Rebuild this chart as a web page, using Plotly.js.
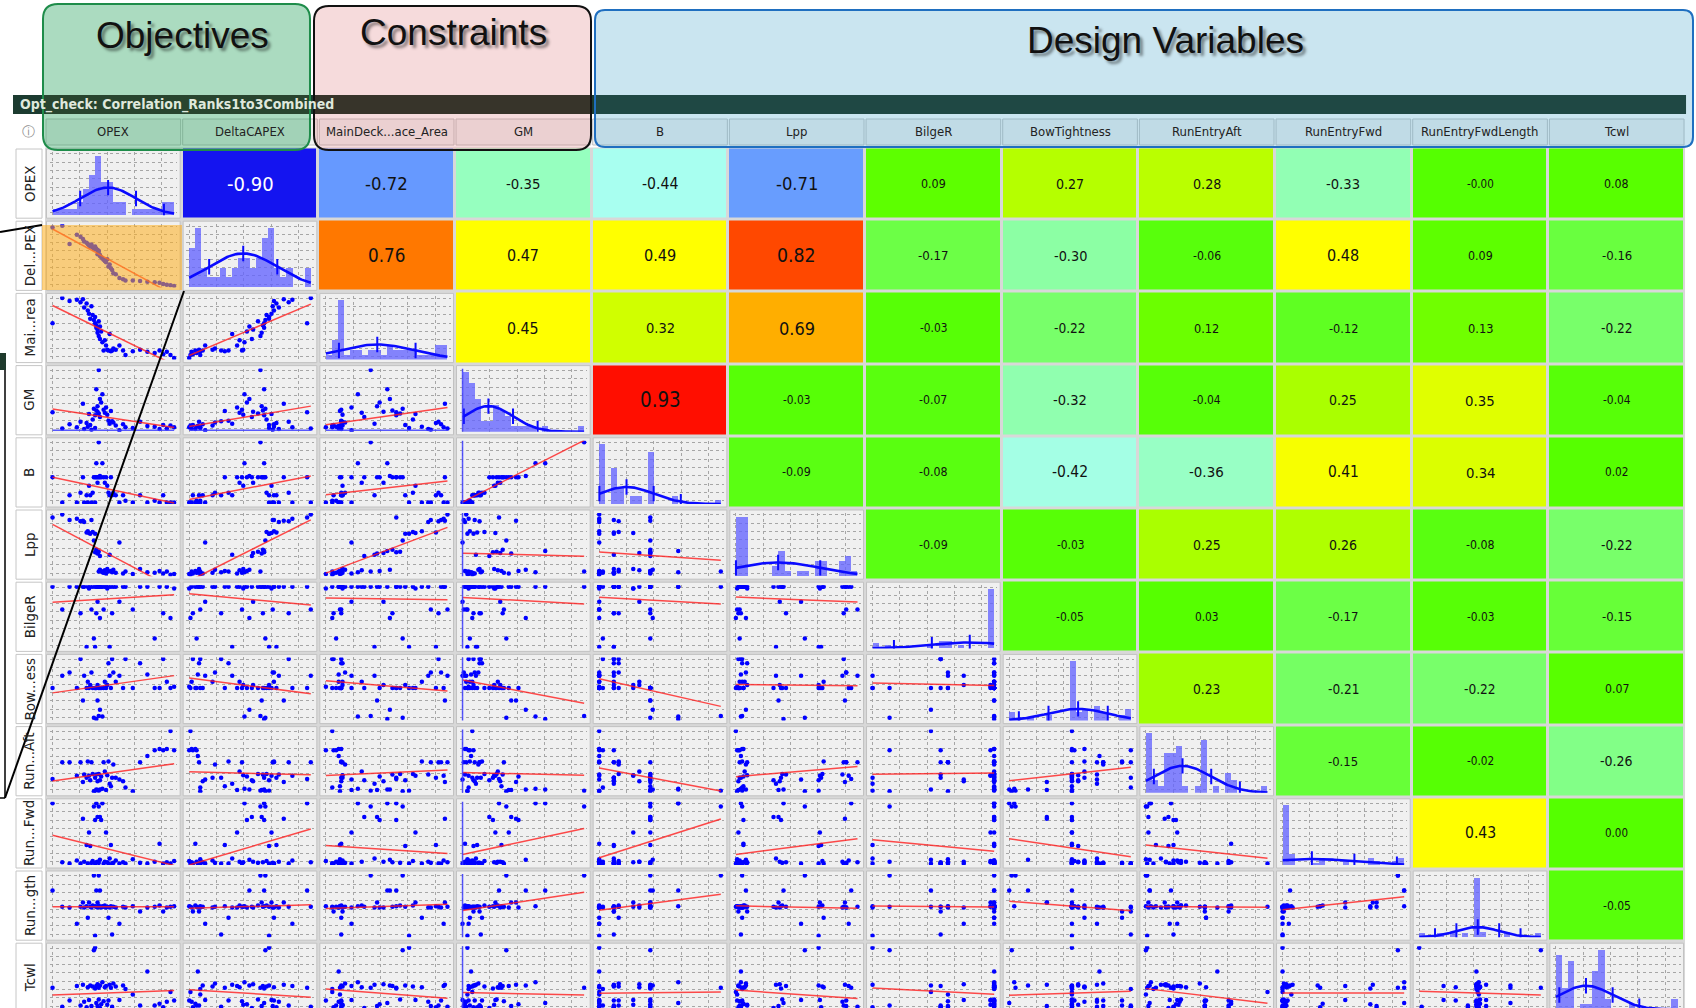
<!DOCTYPE html>
<html>
<head>
<meta charset="utf-8">
<script src="https://cdn.plot.ly/plotly-3.0.1.min.js"></script>
<style>
  html, body { margin: 0; padding: 0; background: #ffffff; }
  #chart { width: 1696px; height: 1008px; }
</style>
</head>
<body>
<div id="chart"></div>
<script>
// ---------------- data: 48 designs, values scaled 0..1 per variable ----------------
const headerLabels = ['OPEX', 'DeltaCAPEX', 'MainDeck...ace_Area', 'GM', 'B', 'Lpp', 'BilgeR',
  'BowTightness', 'RunEntryAft', 'RunEntryFwd', 'RunEntryFwdLength', 'Tcwl'];
const rowLabels = ['OPEX', 'Del...PEX', 'Mai...rea', 'GM', 'B', 'Lpp', 'BilgeR',
  'Bow...ess', 'Run...Aft', 'Run...Fwd', 'Run...gth', 'Tcwl'];

const opex = [0.00,0.08,0.14,0.20,0.23,0.25,0.26,0.28,0.29,0.30,0.31,0.32,0.33,0.34,0.35,0.36,0.36,0.37,0.37,0.38,0.38,0.39,0.39,0.40,0.41,0.42,0.43,0.44,0.45,0.46,0.47,0.48,0.49,0.50,0.52,0.55,0.58,0.60,0.66,0.72,0.78,0.84,0.88,0.91,0.94,0.97,1.00,0.35];
const deltaCapex = [0.97,1.00,0.70,0.85,0.82,0.78,0.74,0.72,0.70,0.68,0.66,0.69,0.64,0.63,0.62,0.62,0.61,0.60,0.53,0.57,0.59,0.52,0.50,0.48,0.46,0.44,0.42,0.40,0.45,0.33,0.36,0.30,0.27,0.22,0.20,0.14,0.12,0.10,0.10,0.09,0.08,0.07,0.06,0.04,0.03,0.02,0.01,0.66];
const mainDeckArea = [0.55,0.95,0.90,0.92,0.88,0.93,0.80,0.86,0.75,0.70,0.62,0.82,0.68,0.60,0.55,0.48,0.52,0.40,0.45,0.58,0.35,0.30,0.50,0.42,0.25,0.12,0.28,0.20,0.13,0.12,0.38,0.11,0.12,0.15,0.13,0.20,0.12,0.05,0.11,0.13,0.10,0.08,0.12,0.06,0.10,0.05,0.00,0.65];
const gm = [0.30,0.03,0.10,0.05,0.14,0.44,0.02,0.12,0.06,0.27,0.09,0.01,0.18,0.36,0.25,0.68,0.33,0.40,0.31,0.28,1.00,0.22,0.52,0.46,0.60,0.34,0.29,0.38,0.26,0.16,0.11,0.32,0.15,0.13,0.08,0.00,0.10,0.05,0.04,0.14,0.07,0.06,0.02,0.09,0.03,0.08,0.05,0.04];
const beam = [0.42,0.00,0.12,0.00,0.16,0.42,0.00,0.12,0.00,0.28,0.12,0.00,0.16,0.42,0.42,0.65,0.42,0.42,0.33,0.42,1.00,0.42,0.44,0.42,0.65,0.42,0.33,0.42,0.28,0.16,0.12,0.42,0.12,0.16,0.12,0.00,0.12,0.03,0.00,0.12,0.00,0.03,0.00,0.12,0.00,0.00,0.00,0.00];
const lpp = [0.92,0.97,0.88,0.90,0.86,0.87,0.85,0.68,0.70,0.67,0.66,0.88,0.69,0.55,0.36,0.38,0.40,0.34,0.35,0.37,0.05,0.30,0.08,0.06,0.04,0.03,0.07,0.02,0.09,0.05,0.32,0.06,0.04,0.08,0.03,0.52,0.02,0.05,0.01,0.09,0.04,0.03,0.06,0.02,0.05,0.00,0.01,0.66];
const bilgeR = [1.00,0.62,1.00,1.00,0.56,1.00,1.00,0.00,1.00,0.97,1.00,0.62,1.00,0.14,1.00,1.00,0.56,1.00,0.75,1.00,1.00,1.00,0.48,1.00,1.00,0.62,1.00,1.00,0.97,1.00,0.00,1.00,0.56,1.00,1.00,0.75,1.00,1.00,0.62,1.00,1.00,0.14,1.00,0.56,1.00,0.48,0.97,0.00];
const bowTightness = [0.50,0.70,0.75,0.50,0.97,0.30,0.70,0.50,0.60,0.50,0.55,0.75,0.50,0.02,0.50,0.00,0.50,0.30,0.55,0.50,0.05,0.50,0.15,0.50,0.04,0.50,0.60,0.50,0.55,0.90,0.70,0.50,0.97,0.75,0.60,0.70,0.50,0.97,0.50,0.90,0.72,0.50,0.50,0.97,0.60,0.50,0.52,0.50];
const runEntryAft = [0.20,0.47,0.47,0.25,0.47,0.15,0.27,0.22,0.48,0.25,0.18,0.47,0.28,0.00,0.22,0.03,0.27,0.02,0.16,0.28,0.01,0.18,0.03,0.24,0.04,0.47,0.32,0.02,0.26,0.48,0.12,0.08,0.22,0.43,0.22,0.19,0.16,0.06,0.00,0.47,0.57,0.66,0.68,0.66,0.68,0.97,0.66,0.01];
const runEntryFwd = [0.97,0.02,0.00,0.05,0.00,0.72,0.03,0.30,0.00,0.50,0.28,0.01,0.04,0.92,0.70,0.97,0.02,0.75,0.03,0.01,0.92,0.75,0.06,0.70,0.97,0.00,0.03,0.50,0.02,0.00,0.08,0.30,0.00,0.01,0.05,0.00,0.02,0.00,0.07,0.01,0.00,0.03,0.32,0.00,0.02,0.00,0.04,0.00];
const runEntryFwdLength = [0.75,0.48,0.47,0.20,0.48,0.55,0.47,0.49,0.30,0.55,0.48,0.47,0.50,1.00,0.49,0.75,0.48,0.55,0.47,0.50,1.00,0.48,0.75,0.47,0.49,0.48,0.50,0.47,0.48,0.30,0.47,0.49,0.02,0.48,0.47,0.20,0.48,0.47,0.49,0.40,0.47,0.48,0.50,0.40,0.47,0.48,0.49,0.00];
const tcwl = [0.33,0.02,0.12,0.36,0.04,0.38,0.10,0.01,0.34,0.13,0.37,0.03,0.35,0.95,0.32,0.08,0.36,0.03,0.39,0.14,0.33,0.00,0.37,0.06,0.42,0.11,0.34,0.36,0.05,0.12,0.38,0.33,0.02,0.40,0.35,0.13,0.37,0.31,0.22,0.04,0.60,0.04,0.07,0.01,0.10,0.26,0.12,0.99];

// correlation coefficients, upper triangle, one array per row variable
const rOPEX       = [-0.90, -0.72, -0.35, -0.44, -0.71, 0.09, 0.27, 0.28, -0.33, -0.004, 0.08];
const rDeltaCAPEX = [0.76, 0.47, 0.49, 0.82, -0.17, -0.30, -0.06, 0.48, 0.09, -0.16];
const rMainDeck   = [0.45, 0.32, 0.69, -0.03, -0.22, 0.12, -0.12, 0.13, -0.22];
const rGM         = [0.93, -0.03, -0.07, -0.32, -0.04, 0.25, 0.35, -0.04];
const rB          = [-0.09, -0.08, -0.42, -0.36, 0.41, 0.34, 0.02];
const rLpp        = [-0.09, -0.03, 0.25, 0.26, -0.08, -0.22];
const rBilgeR     = [-0.05, 0.03, -0.17, -0.03, -0.15];
const rBow        = [0.23, -0.21, -0.22, 0.07];
const rRunAft     = [-0.15, -0.02, -0.26];
const rRunFwd     = [0.43, 0.00];
const rRunFwdLen  = [-0.05];

// ---------------- geometry & styling ----------------
const W = 1696, H = 1008;
const GX = 45, PX = 136.67, GY = 147.5, PY = 72.2;
const NB = 20;
const FONT = 'DejaVu Sans Condensed, DejaVu Sans, sans-serif';

const series = [opex, deltaCapex, mainDeckArea, gm, beam, lpp, bilgeR, bowTightness,
  runEntryAft, runEntryFwd, runEntryFwdLength, tcwl];
const corrRows = [rOPEX, rDeltaCAPEX, rMainDeck, rGM, rB, rLpp, rBilgeR, rBow, rRunAft, rRunFwd, rRunFwdLen];
const NV = series.length;
const GM_INDEX = 3;

const colorStops = [[-1,'#0000ff'],[-0.9,'#1414f0'],[-0.72,'#6699ff'],[-0.44,'#a8fff0'],[-0.30,'#8cffa4'],
  [-0.10,'#5aff14'],[0,'#55ff00'],[0.08,'#58ff00'],[0.25,'#aaff00'],[0.35,'#e0ff00'],[0.43,'#ffff00'],
  [0.5,'#ffff00'],[0.69,'#ffae00'],[0.76,'#ff7800'],[0.82,'#ff4800'],[0.93,'#ff0e00'],[1,'#ff0000']];
const colorscale = colorStops.map(s => [(s[0] + 1) / 2, s[1]]);

function stats(a) {
  const n = a.length;
  const m = a.reduce((s, v) => s + v, 0) / n;
  const sd = Math.sqrt(a.reduce((s, v) => s + (v - m) * (v - m), 0) / (n - 1));
  return { m, sd, min: Math.min(...a), max: Math.max(...a), n };
}
const st = series.map(stats);
const corr = (i, j) => { const a = Math.min(i, j), b = Math.max(i, j); return corrRows[a][b - a - 1]; };

const X = v => v / W;
const Y = v => 1 - v / H;
function rectPx(x0, y0, x1, y1, opts) {
  return Object.assign({ type: 'rect', xref: 'paper', yref: 'paper',
    x0: X(x0), x1: X(x1), y0: Y(y1), y1: Y(y0) }, opts);
}
function linePx(x0, y0, x1, y1, opts) {
  return Object.assign({ type: 'line', xref: 'paper', yref: 'paper',
    x0: X(x0), x1: X(x1), y0: Y(y0), y1: Y(y1) }, opts);
}
function roundRectPx(x0, y0, x1, y1, r, opts) {
  const P = (x, y) => X(x).toFixed(5) + ',' + Y(y).toFixed(5);
  const path = 'M' + P(x0 + r, y0) + ' L' + P(x1 - r, y0) + ' Q' + P(x1, y0) + ' ' + P(x1, y0 + r) +
    ' L' + P(x1, y1 - r) + ' Q' + P(x1, y1) + ' ' + P(x1 - r, y1) +
    ' L' + P(x0 + r, y1) + ' Q' + P(x0, y1) + ' ' + P(x0, y1 - r) +
    ' L' + P(x0, y0 + r) + ' Q' + P(x0, y0) + ' ' + P(x0 + r, y0) + ' Z';
  return Object.assign({ type: 'path', xref: 'paper', yref: 'paper', path }, opts);
}
function labelPx(x, y, text, font, extra) {
  return Object.assign({ xref: 'paper', yref: 'paper', x: X(x), y: Y(y), xanchor: 'center', yanchor: 'middle',
    text, showarrow: false, font }, extra || {});
}

const traces = [];
const shapes = [];
const annotations = [];
const layout = {
  width: W, height: H, autosize: false,
  margin: { l: 0, r: 0, t: 0, b: 0, pad: 0 },
  paper_bgcolor: '#ffffff', plot_bgcolor: 'rgba(0,0,0,0)',
  showlegend: false, hovermode: false, bargap: 0,
  font: { family: FONT, color: '#222' },
  xaxis: { domain: [X(GX), X(GX + NV * PX)], range: [-0.5, NV - 0.5], visible: false, fixedrange: true },
  yaxis: { domain: [0, Y(GY)], range: [-0.5 + (H - GY) / PY, -0.5], visible: false, fixedrange: true },
};

// grid backdrop (shows through the gaps between cells)
shapes.push(rectPx(GX, GY, GX + NV * PX, H + 20, { layer: 'below', fillcolor: '#d8d8d8', line: { width: 0 } }));

// ---------------- upper triangle: correlation heat cells ----------------
const idx = [...Array(NV).keys()];
const z = idx.map(i => idx.map(j => (j > i ? corr(i, j) : null)));
traces.push({ type: 'heatmap', x: idx, y: idx, z, zmin: -1, zmax: 1, colorscale, showscale: false,
  xgap: 3, ygap: 3, hoverinfo: 'skip', xaxis: 'x', yaxis: 'y' });
for (let i = 0; i < NV; i++) {
  for (let j = i + 1; j < NV; j++) {
    const r = corr(i, j);
    annotations.push({ xref: 'x', yref: 'y', x: j, y: i, xanchor: 'center', yanchor: 'middle',
      text: r.toFixed(2), showarrow: false,
      font: { family: FONT, size: 11.5 + 9.5 * Math.abs(r), color: r <= -0.8 ? '#ffffff' : '#111111' } });
  }
}

// ---------------- lower triangle scatter cells + diagonal histograms ----------------
const axisBase = { showticklabels: false, ticks: '', zeroline: false, showline: false, showgrid: true,
  gridcolor: '#a6a6a6', griddash: 'dot', gridwidth: 1, fixedrange: true };

let k = 2;
for (let i = 0; i < NV; i++) {
  for (let j = 0; j <= i; j++) {
    const xr = 'x' + k, yr = 'y' + k;
    const cx0 = GX + PX * j + 1.5, cx1 = GX + PX * (j + 1) - 1.5;
    const cy0 = GY + PY * i + 1.5, cy1 = GY + PY * (i + 1) - 1.5;
    shapes.push(rectPx(cx0, cy0, cx1, cy1, { layer: 'below', fillcolor: '#f0f0f0', line: { color: '#c2c2c2', width: 1 } }));

    const ix0 = cx0 + 3, ix1 = cx1 - 3, iy0 = cy0 + 3, iy1 = cy1 - 3;
    const sx = st[j];
    const spanX = sx.max - sx.min;
    const xlo = sx.min - 0.025 * spanX, xhi = sx.max + 0.025 * spanX;
    let ylo, yhi;

    if (i === j) {
      const size = spanX / NB * 1.0001;
      const counts = new Array(NB).fill(0);
      series[i].forEach(v => { counts[Math.min(NB - 1, Math.floor((v - sx.min) / size))]++; });
      ylo = 0; yhi = Math.max(...counts) * 1.06;
      traces.push({ type: 'histogram', x: series[i], xbins: { start: sx.min, end: sx.min + NB * size, size },
        marker: { color: 'rgba(100,100,255,0.78)', line: { width: 0 } }, xaxis: xr, yaxis: yr, hoverinfo: 'skip' });
      // fitted normal curve
      const cxs = [], cys = [];
      const dens = x => sx.n * size * Math.exp(-0.5 * Math.pow((x - sx.m) / sx.sd, 2)) / (sx.sd * Math.sqrt(2 * Math.PI));
      for (let t = 0; t <= 80; t++) { const x = sx.min + spanX * t / 80; cxs.push(x); cys.push(dens(x)); }
      traces.push({ type: 'scatter', mode: 'lines', x: cxs, y: cys, line: { color: '#0a0aff', width: 2.6 },
        xaxis: xr, yaxis: yr, hoverinfo: 'skip' });
      const txs = [], tys = [];
      for (let s = -2; s <= 2; s++) {
        const x = sx.m + s * sx.sd;
        if (x >= sx.min && x <= sx.max) { txs.push(x); tys.push(dens(x)); }
      }
      traces.push({ type: 'scatter', mode: 'markers', x: txs, y: tys,
        marker: { symbol: 'line-ns', size: 11, line: { color: '#0a0aff', width: 2 } },
        xaxis: xr, yaxis: yr, hoverinfo: 'skip' });
      if (i === GM_INDEX) {
        traces.push({ type: 'scatter', mode: 'lines', x: [sx.min, sx.min], y: [0, yhi],
          line: { color: 'rgba(60,60,255,0.85)', width: 1.5 }, xaxis: xr, yaxis: yr, hoverinfo: 'skip' });
      }
    } else {
      const sy = st[i];
      const spanY = sy.max - sy.min;
      ylo = sy.min - 0.025 * spanY; yhi = sy.max + 0.025 * spanY;
      traces.push({ type: 'scatter', mode: 'markers', x: series[j], y: series[i],
        marker: { color: '#0000ff', size: 4.5, line: { width: 0 } }, xaxis: xr, yaxis: yr, hoverinfo: 'skip' });
      // least-squares line from the stated coefficient
      const r = corr(i, j);
      const slope = r * sy.sd / sx.sd;
      traces.push({ type: 'scatter', mode: 'lines', x: [sx.min, sx.max],
        y: [sy.m + slope * (sx.min - sx.m), sy.m + slope * (sx.max - sx.m)],
        line: { color: 'rgba(255,30,30,0.8)', width: 1.5 }, xaxis: xr, yaxis: yr, hoverinfo: 'skip' });
      if (i === GM_INDEX) {
        traces.push({ type: 'scatter', mode: 'lines', x: [sx.min, sx.max], y: [sy.min, sy.min],
          line: { color: 'rgba(60,60,255,0.85)', width: 1.5 }, xaxis: xr, yaxis: yr, hoverinfo: 'skip' });
      }
      if (j === GM_INDEX) {
        traces.push({ type: 'scatter', mode: 'lines', x: [sx.min, sx.min], y: [sy.min - spanY, sy.max + spanY],
          line: { color: 'rgba(60,60,255,0.85)', width: 1.5 }, xaxis: xr, yaxis: yr, hoverinfo: 'skip' });
      }
    }

    const fullLo = ylo;
    let bottomPx = iy1;
    if (iy1 > H) { ylo = yhi - (yhi - ylo) * (H - iy0) / (iy1 - iy0); bottomPx = H; }
    layout['xaxis' + k] = Object.assign({}, axisBase, { domain: [X(ix0), X(ix1)], range: [xlo, xhi], anchor: yr,
      tick0: sx.min, dtick: 0.225 * spanX });
    layout['yaxis' + k] = Object.assign({}, axisBase, { domain: [Y(bottomPx), Y(iy0)], range: [ylo, yhi], anchor: xr,
      tick0: fullLo + (yhi - fullLo) * 0.05, dtick: (yhi - fullLo) / 7.6 });
    k++;
  }
}

// ---------------- row labels ----------------
for (let i = 0; i < NV; i++) {
  const y0 = GY + PY * i + 1.5, y1 = GY + PY * (i + 1) - 1.5;
  shapes.push(rectPx(16, y0, 42, y1, { layer: 'below', fillcolor: '#ffffff', line: { color: '#c6c6c6', width: 1 } }));
  annotations.push(labelPx(29.5, GY + PY * (i + 0.5), rowLabels[i],
    { family: 'DejaVu Sans, sans-serif', size: 13.5, color: '#222' }, { textangle: -90 }));
}

// ---------------- column header cells ----------------
for (let j = 0; j < NV; j++) {
  const x0 = GX + PX * j + 1, x1 = GX + PX * (j + 1) - 1;
  shapes.push(rectPx(x0, 119, x1, 145, { layer: 'above', fillcolor: '#f1f1f1', line: { color: '#c0c0c0', width: 1 } }));
  annotations.push(labelPx((x0 + x1) / 2, 132, headerLabels[j], { family: FONT, size: 13, color: '#222' }));
}
annotations.push(labelPx(28, 132, 'ⓘ', { family: 'DejaVu Sans, sans-serif', size: 13, color: '#8c8c8c' }));

// ---------------- group boxes (fill), title bar, then box outlines ----------------
const boxes = [
  { x0: 43, y0: 4, x1: 310, y1: 150, r: 15, fill: 'rgba(35,160,90,0.38)', line: '#1e8c4a' },
  { x0: 314, y0: 6, x1: 591, y1: 150, r: 15, fill: 'rgba(220,110,115,0.25)', line: '#111111' },
  { x0: 595, y0: 10, x1: 1693, y1: 147, r: 10, fill: 'rgba(80,170,205,0.30)', line: '#1f6fc0' },
];
boxes.forEach(b => shapes.push(roundRectPx(b.x0, b.y0, b.x1, b.y1, b.r,
  { layer: 'above', fillcolor: b.fill, line: { width: 0 } })));

const barEnd = GX + NV * PX + 1;
const barSegments = [[13, 43, '#1c3b30'], [43, 310, '#29452f'], [310, 314, '#1c3b30'],
  [314, 591, '#37342a'], [591, 595, '#1c3b30'], [595, barEnd, '#1f4844']];
barSegments.forEach(([a, b, c]) => shapes.push(rectPx(a, 95, b, 114, { layer: 'above', fillcolor: c, line: { width: 0 } })));
annotations.push(labelPx(18, 104.5, '<b>Opt_check: Correlation_Ranks1to3Combined</b>',
  { family: FONT, size: 14, color: '#dfe8dc' }, { xanchor: 'left' }));

boxes.forEach(b => shapes.push(roundRectPx(b.x0, b.y0, b.x1, b.y1, b.r,
  { layer: 'above', fillcolor: 'rgba(0,0,0,0)', line: { color: b.line, width: 2 } })));

const boxTitles = [['Objectives', 182.5, 36], ['Constraints', 454, 32], ['Design Variables', 1165, 41]];
boxTitles.forEach(([t, x, y]) => {
  annotations.push(labelPx(x, y, t, { family: 'Liberation Sans, Arial, sans-serif', size: 37, color: '#111111',
    shadow: '3px 3px 3px rgba(0,0,0,0.45)' }));
});

// ---------------- highlight and callout lines ----------------
shapes.push(rectPx(42, 225, 182, 290, { layer: 'above', fillcolor: 'rgba(255,175,30,0.55)', line: { width: 0 } }));
shapes.push(linePx(0, 232, 42, 225, { layer: 'above', line: { color: '#000', width: 2 } }));
shapes.push(linePx(184, 291, 5, 798, { layer: 'above', line: { color: '#000', width: 2 } }));
shapes.push(rectPx(0, 353, 6, 370, { layer: 'above', fillcolor: '#1e3a2c', line: { width: 0 } }));
shapes.push(linePx(5, 370, 5, 798, { layer: 'above', line: { color: '#000', width: 1.5 } }));
shapes.push(linePx(0, 798, 5, 798, { layer: 'above', line: { color: '#000', width: 1.5 } }));

layout.shapes = shapes;
layout.annotations = annotations;

Plotly.newPlot('chart', traces, layout, { displayModeBar: false, staticPlot: true });
</script>
</body>
</html>
